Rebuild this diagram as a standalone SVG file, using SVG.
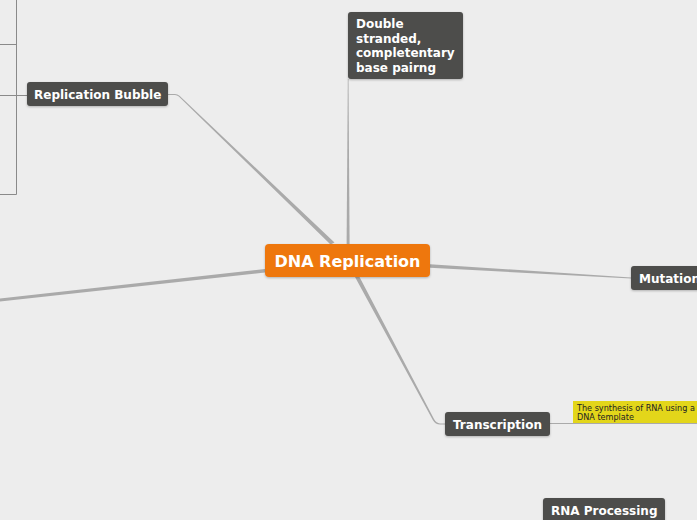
<svg xmlns="http://www.w3.org/2000/svg" width="697" height="520" viewBox="0 0 697 520">
<defs>
<filter id="sh" x="-10%" y="-10%" width="120%" height="140%">
<feDropShadow dx="0" dy="1" stdDeviation="0.8" flood-color="#000" flood-opacity="0.25"/>
</filter>
<style>
.node{fill:#4d4d4b;filter:url(#sh)}
.lbl{font-family:"DejaVu Sans",Verdana,sans-serif;font-weight:bold;font-size:12px;fill:#ffffff}
.conn{fill:#aaaaaa;stroke:none}
.thin{stroke:#aaaaaa;fill:none}
.br{stroke:#8a8a8a;stroke-width:1;fill:none}
</style>
</defs>
<rect width="697" height="520" fill="#ededed"/>
<g id="connectors">
<path class="br" d="M16.5 0 V194.5 H0 M0 44.5 H16.5 M0 95.5 H27"/>
<path class="conn" d="M168 94 L175 94 Q177.5 94 179.5 95.7 L334.5 242.5 L330.5 244.5 L178.8 96.5 Q177 95 175 95 L168 95 Z"/>
<path class="conn" d="M347.8 79 L348.5 79 L349.6 244 L346.6 244 Z"/>
<path class="conn" d="M265 269 L265 272.5 L0 301.6 L0 298.6 Z"/>
<path class="conn" d="M430 264.2 L631 277.4 L631 278.6 L430 267.8 Z"/>
<path class="conn" d="M355 277 L359.5 277 L434 419 Q436.5 423.4 440 423.4 L445 423.4 L445 424.6 L440 424.6 Q435.5 424.6 432.8 420 Z"/>
<path class="thin" d="M550 423.5 H697" stroke-width="1"/>
</g>
<g id="replication-bubble">
<rect class="node" x="27" y="82" width="141" height="24" rx="3"/>
<text class="lbl" x="34" y="99">Replication Bubble</text>
</g>
<g id="double-stranded">
<rect class="node" x="348" y="12" width="115" height="67" rx="3"/>
<text class="lbl" x="356" y="28">Double</text>
<text class="lbl" x="356" y="42.5">stranded,</text>
<text class="lbl" x="356" y="57">completentary</text>
<text class="lbl" x="356" y="71.5">base pairng</text>
</g>
<g id="dna-replication">
<rect x="265" y="244" width="165" height="33" rx="4" fill="#ee770f" filter="url(#sh)"/>
<text class="lbl" x="347.5" y="266.5" text-anchor="middle" style="font-size:16px">DNA Replication</text>
</g>
<g id="mutation">
<rect class="node" x="631" y="266" width="80" height="24" rx="3"/>
<text class="lbl" x="639" y="283">Mutation</text>
</g>
<g id="transcription">
<rect class="node" x="445" y="412" width="105" height="24" rx="3"/>
<text class="lbl" x="453" y="429">Transcription</text>
</g>
<g id="transcription-note">
<rect x="573" y="401" width="130" height="22" fill="#e3d61a"/>
<text x="577" y="411" font-family="DejaVu Sans, Verdana, sans-serif" font-size="8.1" fill="#222">The synthesis of RNA using a</text>
<text x="577" y="420" font-family="DejaVu Sans, Verdana, sans-serif" font-size="8.1" fill="#222">DNA template</text>
</g>
<g id="rna-processing">
<rect class="node" x="543" y="498" width="122" height="30" rx="3"/>
<text class="lbl" x="551" y="515">RNA Processing</text>
</g>
</svg>
